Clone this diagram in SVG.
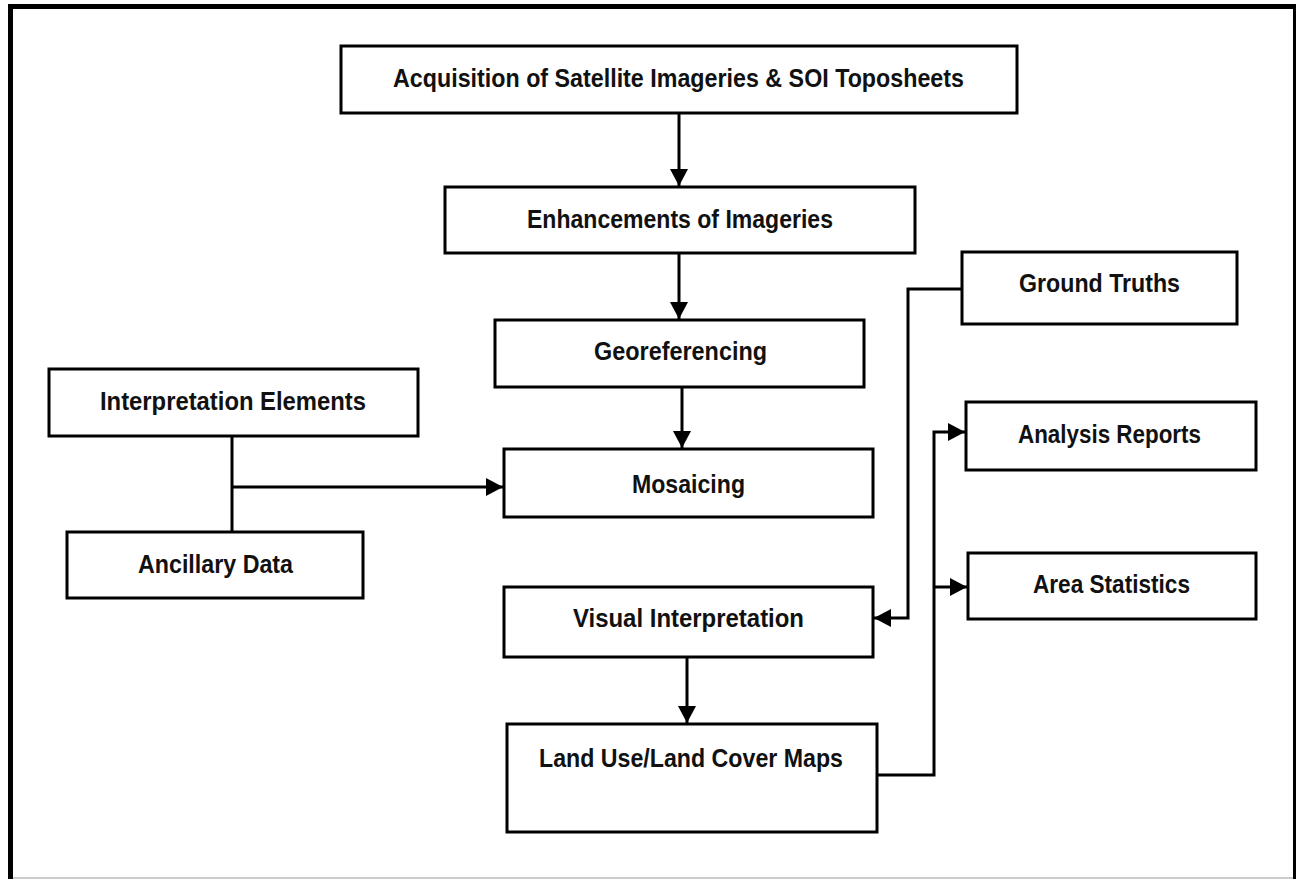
<svg xmlns="http://www.w3.org/2000/svg" width="1296" height="879" viewBox="0 0 1296 879">
<style>
.box{fill:#fff;stroke:#000;stroke-width:3}
.lbl{font-family:"Liberation Sans",Arial,sans-serif;font-weight:bold;font-size:26px;fill:#111;text-anchor:middle}
.ln{fill:none;stroke:#000;stroke-width:3}
</style>
<defs>
<marker id="ah" markerUnits="userSpaceOnUse" markerWidth="18" markerHeight="18" viewBox="0 0 18 18" refX="17" refY="9" orient="auto">
<path d="M0,0 L17,9 L0,18 Z" fill="#000"/>
</marker>
</defs>
<rect width="1296" height="879" fill="#fff"/>
<g id="frame">
<rect x="8" y="4" width="1288" height="5" fill="#000"/>
<rect x="8" y="4" width="5" height="875" fill="#000"/>
<rect x="1293" y="4" width="3" height="875" fill="#000"/>
<line x1="13" y1="878" x2="1293" y2="878" stroke="#999" stroke-width="1"/>
</g>
<g id="connectors">
<line class="ln" x1="679" y1="113" x2="679" y2="186" marker-end="url(#ah)"/>
<line class="ln" x1="679" y1="253" x2="679" y2="319" marker-end="url(#ah)"/>
<line class="ln" x1="682" y1="387" x2="682" y2="448" marker-end="url(#ah)"/>
<line class="ln" x1="232" y1="436" x2="232" y2="532"/>
<line class="ln" x1="232" y1="487" x2="503" y2="487" stroke-width="4" marker-end="url(#ah)"/>
<polyline class="ln" points="962,289 908,289 908,618 874,618" marker-end="url(#ah)"/>
<line class="ln" x1="687" y1="657" x2="687" y2="723" marker-end="url(#ah)"/>
<polyline class="ln" points="877,775 934,775 934,432 965,432" marker-end="url(#ah)"/>
<line class="ln" x1="934" y1="587" x2="967" y2="587" marker-end="url(#ah)"/>
</g>
<g id="acquisition"><rect class="box" x="341" y="46" width="676" height="67"/><text class="lbl" x="678.5" y="87" textLength="571" lengthAdjust="spacingAndGlyphs">Acquisition of Satellite Imageries &amp; SOI Toposheets</text></g>
<g id="enhancements"><rect class="box" x="445" y="187" width="470" height="66"/><text class="lbl" x="680" y="228" textLength="306" lengthAdjust="spacingAndGlyphs">Enhancements of Imageries</text></g>
<g id="georeferencing"><rect class="box" x="495" y="320" width="369" height="67"/><text class="lbl" x="680.5" y="360" textLength="173" lengthAdjust="spacingAndGlyphs">Georeferencing</text></g>
<g id="interpretation-elements"><rect class="box" x="49" y="369" width="369" height="67"/><text class="lbl" x="233" y="410" textLength="266" lengthAdjust="spacingAndGlyphs">Interpretation Elements</text></g>
<g id="ancillary-data"><rect class="box" x="67" y="532" width="296" height="66"/><text class="lbl" x="215.5" y="573" textLength="155" lengthAdjust="spacingAndGlyphs">Ancillary Data</text></g>
<g id="mosaicing"><rect class="box" x="504" y="449" width="369" height="68"/><text class="lbl" x="688.5" y="493" textLength="113" lengthAdjust="spacingAndGlyphs">Mosaicing</text></g>
<g id="visual-interpretation"><rect class="box" x="504" y="587" width="369" height="70"/><text class="lbl" x="688.5" y="627" textLength="231" lengthAdjust="spacingAndGlyphs">Visual Interpretation</text></g>
<g id="land-use-maps"><rect class="box" x="507" y="724" width="370" height="108"/><text class="lbl" x="691" y="767" textLength="304" lengthAdjust="spacingAndGlyphs">Land Use/Land Cover Maps</text></g>
<g id="ground-truths"><rect class="box" x="962" y="252" width="275" height="72"/><text class="lbl" x="1099.5" y="292" textLength="161" lengthAdjust="spacingAndGlyphs">Ground Truths</text></g>
<g id="analysis-reports"><rect class="box" x="966" y="402" width="290" height="68"/><text class="lbl" x="1109.5" y="443" textLength="183" lengthAdjust="spacingAndGlyphs">Analysis Reports</text></g>
<g id="area-statistics"><rect class="box" x="968" y="553" width="288" height="66"/><text class="lbl" x="1111.5" y="593" textLength="157" lengthAdjust="spacingAndGlyphs">Area Statistics</text></g>
</svg>
